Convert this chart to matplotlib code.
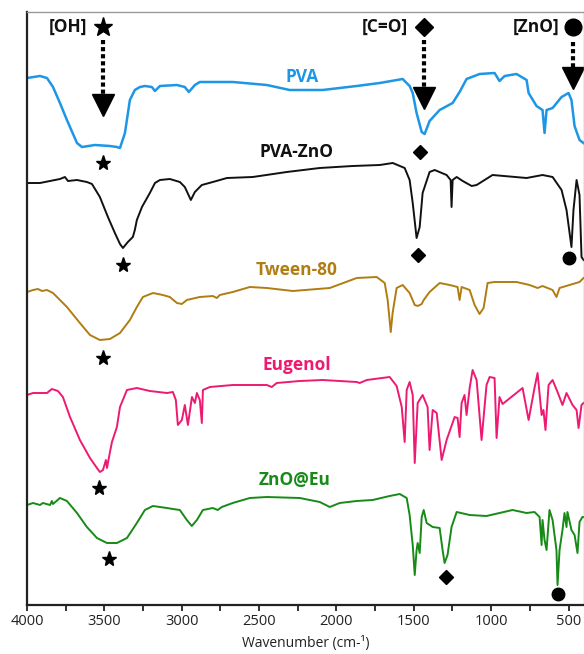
"""FTIR spectra of PVA, PVA-ZnO, Tween-80, Eugenol and ZnO@Eu (stacked, offset a.u.)."""
import matplotlib
matplotlib.use("Agg")
import matplotlib.pyplot as plt
from matplotlib.ticker import MultipleLocator

plt.rcParams["font.family"] = ["Open Sans", "DejaVu Sans"]

# spectra: wavenumber (cm-1) and stacked transmittance (a.u.)
pva_wn = [4000, 3916, 3871, 3832, 3787, 3742, 3677, 3645, 3561, 3464, 3419, 3399, 3367, 3335,
          3303, 3270, 3238, 3193, 3173, 3141, 3031, 2980, 2954, 2915, 2883, 2670, 2450, 2302,
          2089, 1869, 1720, 1572, 1527, 1507, 1482, 1449, 1430, 1398, 1333, 1249, 1204, 1159,
          1075, 978, 946, 913, 836, 771, 758, 707, 668, 655, 642, 603, 545, 500, 481, 461,
          429, 403]
pva_t = [527, 529, 527, 518, 502, 485, 462, 458, 460, 459, 458, 457, 472, 505,
         515, 518, 519, 518, 514, 519, 520, 518, 513, 520, 523, 523, 520, 515,
         515, 519, 522, 526, 519, 512, 492, 473, 471, 484, 495, 502, 513, 526,
         531, 532, 524, 529, 531, 525, 512, 499, 495, 472, 495, 497, 508, 512, 505, 479,
         465, 462]

pvazno_wn = [4000, 3916, 3787, 3755, 3735, 3677, 3613, 3580, 3529, 3477, 3432, 3399, 3380,
             3348, 3316, 3303, 3290, 3257, 3206, 3173, 3141, 3077, 3012, 2980, 2941, 2915,
             2870, 2799, 2708, 2541, 2321, 2108, 1895, 1720, 1636, 1559, 1527, 1507, 1482,
             1462, 1443, 1398, 1365, 1288, 1262, 1256, 1249, 1223, 1184, 1126, 1094, 991,
             771, 668, 603, 545, 513, 481, 468, 448, 429, 416, 403]
pvazno_t = [422, 422, 426, 428, 424, 425, 423, 421, 408, 388, 372, 361, 357,
            363, 368, 375, 385, 398, 412, 422, 425, 426, 423, 418, 405, 413,
            420, 423, 427, 428, 433, 437, 439, 440, 442, 437, 425, 402, 367,
            378, 412, 433, 435, 430, 425, 398, 425, 428, 424, 419, 420, 430,
            427, 430, 428, 415, 395, 358, 395, 425, 410, 348, 345]

tween_wn = [4000, 3961, 3929, 3903, 3871, 3832, 3742, 3658, 3593, 3529, 3464, 3399, 3335,
            3290, 3251, 3186, 3122, 3077, 3031, 2999, 2967, 2883, 2799, 2773, 2754, 2670,
            2560, 2450, 2282, 2043, 1869, 1740, 1688, 1669, 1649, 1637, 1611, 1572, 1527,
            1494, 1475, 1449, 1436, 1398, 1333, 1268, 1217, 1204, 1191, 1139, 1107, 1075,
            1049, 1023, 978, 836, 752, 700, 668, 603, 578, 558, 494, 429, 403]
tween_t = [313, 315, 316, 314, 315, 312, 298, 282, 270, 265, 266, 272, 285,
           298, 308, 312, 310, 308, 302, 301, 305, 308, 309, 307, 310, 313,
           318, 317, 314, 317, 327, 328, 322, 305, 273, 292, 317, 320, 312,
           300, 299, 301, 305, 313, 322, 320, 318, 305, 318, 315, 300, 291,
           297, 322, 323, 323, 320, 317, 319, 315, 308, 317, 320, 323, 327]

eug_wn = [4000, 3961, 3897, 3871, 3839, 3800, 3768, 3722, 3658, 3593, 3548, 3529, 3509,
          3490, 3483, 3470, 3451, 3419, 3399, 3354, 3290, 3206, 3096, 3057, 3038, 3025,
          2999, 2980, 2960, 2934, 2915, 2902, 2883, 2870, 2863, 2818, 2670, 2450, 2418,
          2386, 2237, 2089, 1869, 1850, 1804, 1656, 1611, 1578, 1559, 1546, 1527, 1507,
          1494, 1475, 1443, 1411, 1398, 1378, 1352, 1320, 1288, 1236, 1217, 1204, 1191,
          1172, 1159, 1139, 1120, 1094, 1062, 1030, 1010, 978, 965, 946, 926, 797, 758,
          720, 700, 674, 662, 649, 629, 603, 571, 539, 513, 474, 448, 435, 416, 403]
eug_t = [210, 212, 212, 212, 216, 214, 208, 188, 165, 147, 137, 133, 135,
         145, 137, 148, 163, 178, 198, 215, 217, 214, 212, 213, 205, 180,
         185, 200, 180, 208, 202, 212, 205, 182, 215, 218, 220, 220, 218,
         222, 224, 225, 223, 222, 225, 228, 219, 198, 163, 215, 223, 210,
         142, 202, 210, 198, 155, 195, 192, 145, 165, 188, 187, 168, 202,
         210, 190, 217, 235, 225, 165, 220, 228, 227, 167, 208, 201, 217, 185,
         217, 232, 190, 195, 175, 220, 225, 213, 200, 212, 200, 195, 177, 200, 202]

zeu_wn = [4000, 3961, 3916, 3897, 3851, 3839, 3832, 3787, 3742, 3677, 3613, 3548, 3483,
          3419, 3354, 3290, 3238, 3186, 3096, 3057, 3012, 2967, 2935, 2902, 2863, 2799,
          2767, 2741, 2670, 2560, 2450, 2237, 2173, 2108, 2043, 1979, 1869, 1766, 1656,
          1591, 1546, 1527, 1507, 1494, 1482, 1475, 1462, 1449, 1436, 1417, 1378, 1333,
          1314, 1301, 1282, 1256, 1223, 1139, 1030, 862, 771, 720, 687, 674, 668, 655,
          642, 623, 603, 578, 571, 558, 539, 526, 513, 507, 481, 461, 442, 429, 410, 403]
zeu_t = [100, 102, 100, 102, 100, 104, 101, 107, 104, 92, 78, 67, 62,
         62, 67, 82, 95, 99, 97, 96, 95, 85, 79, 85, 95, 97,
         95, 98, 102, 107, 108, 107, 105, 103, 98, 102, 104, 105, 109,
         111, 107, 90, 60, 30, 55, 62, 52, 88, 95, 82, 78, 77,
         55, 42, 50, 78, 93, 90, 89, 95, 92, 93, 88, 60, 85, 65,
         55, 95, 85, 55, 20, 55, 75, 92, 78, 93, 75, 70, 52, 83, 88, 88]

names = ["PVA", "PVA-ZnO", "Tween-80", "Eugenol", "ZnO@Eu"]
colors = ["#1E96E6", "#111111", "#B07D12", "#EE1A72", "#178A17"]
label_pos = [(2224, 528), (2256, 453), (2256, 335), (2256, 240), (2269, 125)]

# band markers under each trace
star_wn = [3509, 3380, 3509, 3535, 3470]
star_t = [442, 340, 247, 117, 46]
diamond_wn = [1462, 1475, 1294]
diamond_t = [453, 350, 28]
circle_wn = [500, 571]
circle_t = [347, 11]


def band_arrow(ax, text, wn_text, wn_mark, marker, y_top, y_line_end, y_head, ms):
    ax.text(wn_text, 578, text, ha="center", va="center", fontsize=12.5,
            fontweight="bold", color="#111111")
    ax.plot([wn_mark], [578], marker=marker, color="black", ms=ms, ls="none")
    ax.plot([wn_mark, wn_mark], [y_top, y_line_end], color="black", lw=3,
            ls=(0, (1, 0.7)), solid_capstyle="butt")
    ax.plot([wn_mark], [y_head], marker="v", color="black", ms=16, ls="none")


def main():
    fig = plt.figure(figsize=(5.84, 6.54), dpi=100)
    ax = fig.add_axes([27 / 584, 49 / 654, 557 / 584, 593 / 654])

    spectra = [(pva_wn, pva_t), (pvazno_wn, pvazno_t), (tween_wn, tween_t),
               (eug_wn, eug_t), (zeu_wn, zeu_t)]
    for (wn, t), name, c, (lx, ly) in zip(spectra, names, colors, label_pos):
        lw = 1.8 if name == "PVA" else 1.4
        ax.plot(wn, t, color=c, lw=lw, solid_joinstyle="round")
        ax.text(lx, ly, name, color=c, ha="center", va="center",
                fontsize=12.5, fontweight="bold")

    ax.plot(star_wn, star_t, "*", color="black", ms=11, ls="none")
    ax.plot(diamond_wn, diamond_t, "D", color="black", ms=7, ls="none")
    ax.plot(circle_wn, circle_t, "o", color="black", ms=9, ls="none")

    band_arrow(ax, "[OH]", 3735, 3509, "*", 565, 508, 500, 14)
    band_arrow(ax, "[C=O]", 1688, 1436, "D", 565, 515, 507, 9)
    band_arrow(ax, "[ZnO]", 707, 474, "o", 563, 535, 527, 12)

    ax.set_xlim(4000, 400)
    ax.set_ylim(0, 593)
    ax.xaxis.set_major_locator(MultipleLocator(500))
    ax.xaxis.set_minor_locator(MultipleLocator(250))
    ax.tick_params(axis="x", which="both", direction="out", length=4.5, width=1.3,
                   labelsize=10.5, colors="#222222", pad=2)
    ax.set_yticks([])
    for side in ("left", "bottom"):
        ax.spines[side].set_linewidth(1.6)
        ax.spines[side].set_color("#222222")
    for side in ("top", "right"):
        ax.spines[side].set_linewidth(1.0)
        ax.spines[side].set_color("#999999")
    ax.set_xlabel("Wavenumber (cm-¹)", fontsize=10, color="#222222", labelpad=5)

    fig.savefig("out.png", dpi=100)


if __name__ == "__main__":
    main()
